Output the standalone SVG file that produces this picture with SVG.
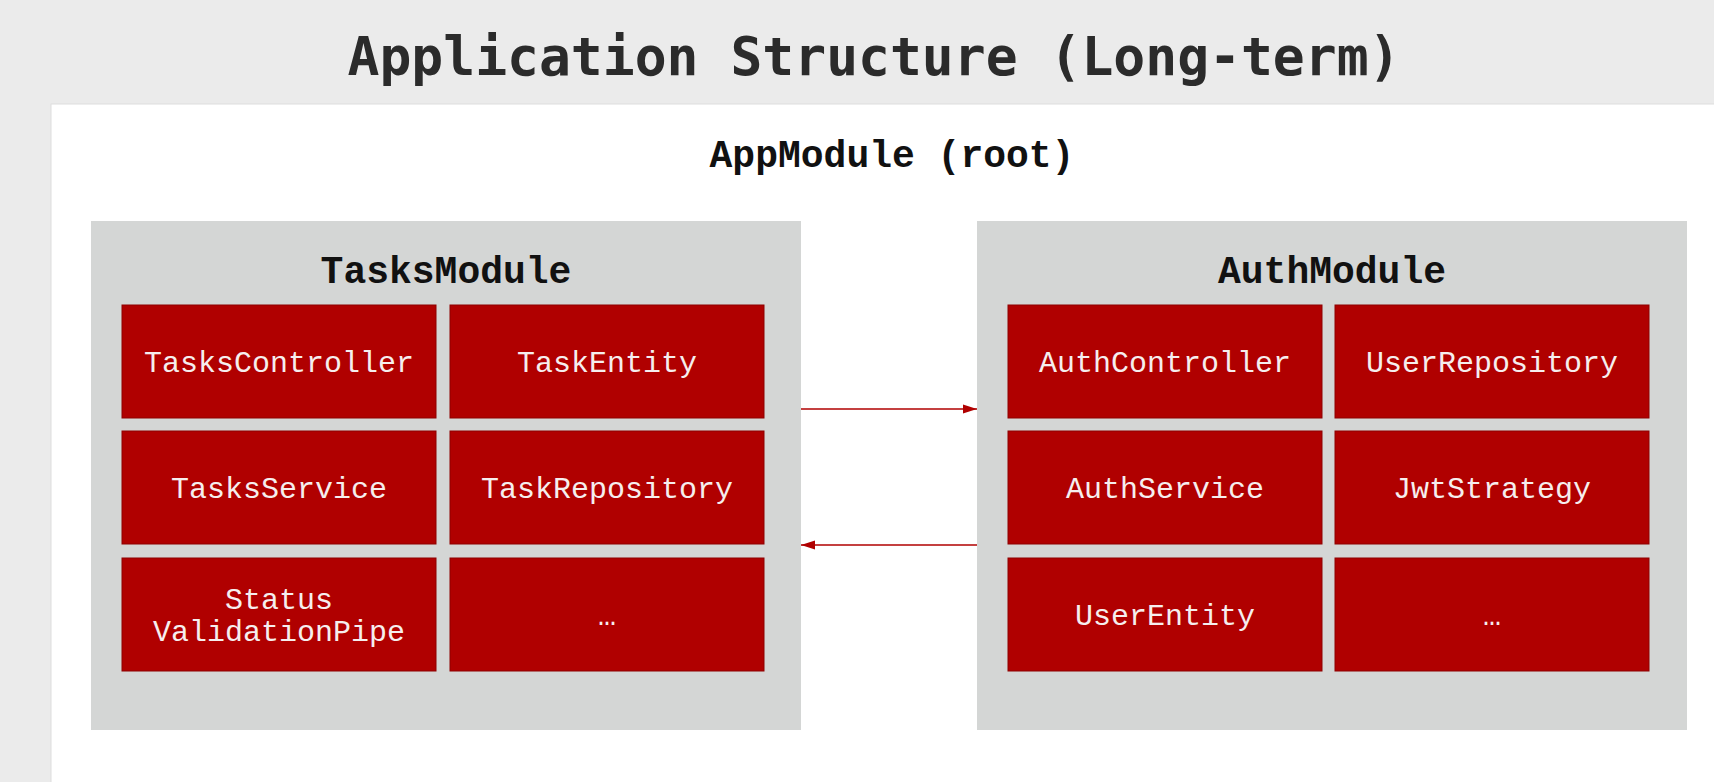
<svg xmlns="http://www.w3.org/2000/svg" width="1714" height="782" viewBox="0 0 1714 782">
  <defs>
    <style>
      .bg { fill: #ebebeb; }
      .panel { fill: #ffffff; stroke: #dedede; stroke-width: 1; }
      .module { fill: #d4d6d5; }
      .item { fill: #b00000; stroke: #8e0000; stroke-width: 1; }
      .title { font-family: "DejaVu Sans Mono", "Liberation Mono", monospace; font-weight: bold; font-size: 53px; fill: #2b2b2b; text-anchor: middle; }
      .head { font-family: "Liberation Mono", "DejaVu Sans Mono", monospace; font-weight: bold; font-size: 38px; fill: #111111; text-anchor: middle; }
      .label { font-family: "Liberation Mono", "DejaVu Sans Mono", monospace; font-size: 30px; fill: #f6eeee; text-anchor: middle; }
      .conn { stroke: #b00000; stroke-width: 1.4; fill: none; }
    </style>
    <marker id="arrow" markerUnits="userSpaceOnUse" markerWidth="15" markerHeight="10" refX="14" refY="5" orient="auto">
      <path d="M0,0.5 L14,5 L0,9.5 Z" fill="#b00000"/>
    </marker>
  </defs>

  <rect class="bg" x="0" y="0" width="1714" height="782"/>
  <text class="title" x="874" y="75">Application Structure (Long-term)</text>

  <g id="appmodule">
    <rect class="panel" x="51" y="104" width="1700" height="720"/>
    <text class="head" x="892" y="167">AppModule (root)</text>
  </g>

  <g id="tasksmodule">
    <rect class="module" x="91" y="221" width="710" height="509"/>
    <text class="head" x="446" y="283">TasksModule</text>
  </g>
  <g id="taskscontroller">
    <rect class="item" x="122" y="305" width="314" height="113"/>
    <text class="label" x="279" y="372">TasksController</text>
  </g>
  <g id="taskentity">
    <rect class="item" x="450" y="305" width="314" height="113"/>
    <text class="label" x="607" y="372">TaskEntity</text>
  </g>
  <g id="tasksservice">
    <rect class="item" x="122" y="431" width="314" height="113"/>
    <text class="label" x="279" y="498">TasksService</text>
  </g>
  <g id="taskrepository">
    <rect class="item" x="450" y="431" width="314" height="113"/>
    <text class="label" x="607" y="498">TaskRepository</text>
  </g>
  <g id="statusvalidationpipe">
    <rect class="item" x="122" y="558" width="314" height="113"/>
    <text class="label" x="279" y="609">Status</text>
    <text class="label" x="279" y="641">ValidationPipe</text>
  </g>
  <g id="tasks-more">
    <rect class="item" x="450" y="558" width="314" height="113"/>
    <text class="label" x="607" y="625">…</text>
  </g>

  <g id="authmodule">
    <rect class="module" x="977" y="221" width="710" height="509"/>
    <text class="head" x="1332" y="283">AuthModule</text>
  </g>
  <g id="authcontroller">
    <rect class="item" x="1008" y="305" width="314" height="113"/>
    <text class="label" x="1165" y="372">AuthController</text>
  </g>
  <g id="userrepository">
    <rect class="item" x="1335" y="305" width="314" height="113"/>
    <text class="label" x="1492" y="372">UserRepository</text>
  </g>
  <g id="authservice">
    <rect class="item" x="1008" y="431" width="314" height="113"/>
    <text class="label" x="1165" y="498">AuthService</text>
  </g>
  <g id="jwtstrategy">
    <rect class="item" x="1335" y="431" width="314" height="113"/>
    <text class="label" x="1492" y="498">JwtStrategy</text>
  </g>
  <g id="userentity">
    <rect class="item" x="1008" y="558" width="314" height="113"/>
    <text class="label" x="1165" y="625">UserEntity</text>
  </g>
  <g id="auth-more">
    <rect class="item" x="1335" y="558" width="314" height="113"/>
    <text class="label" x="1492" y="625">…</text>
  </g>

  <g id="connectors">
    <line class="conn" x1="801" y1="409" x2="977" y2="409" marker-end="url(#arrow)"/>
    <line class="conn" x1="977" y1="545" x2="801" y2="545" marker-end="url(#arrow)"/>
  </g>
</svg>
